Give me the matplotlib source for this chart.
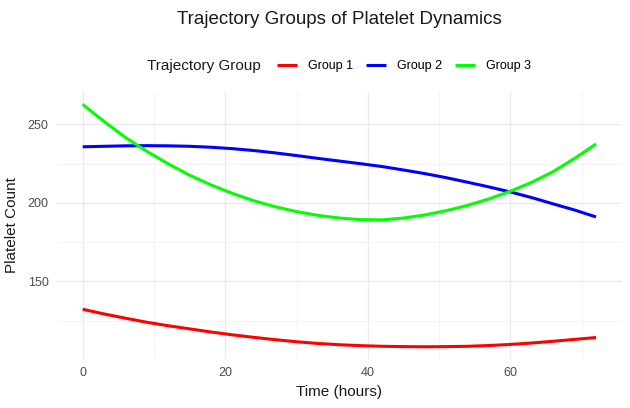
import matplotlib
matplotlib.use("Agg")
import matplotlib.pyplot as plt
from matplotlib.ticker import MultipleLocator

plt.rcParams['font.family'] = ['Liberation Sans', 'DejaVu Sans']

# values, every 3 hours
time_hours = [0, 3, 6, 9, 12, 15, 18, 21, 24, 27, 30, 33, 36,
              39, 42, 45, 48, 51, 54, 57, 60, 63, 66, 69, 72]
group_1 = [132.2, 129.2, 126.5, 123.9, 121.7, 119.7, 117.7, 115.9, 114.3,
           112.8, 111.5, 110.4, 109.6, 109.0, 108.6, 108.4, 108.3, 108.4,
           108.6, 109.1, 109.8, 110.7, 111.8, 113.0, 114.2]
group_2 = [235.7, 236.0, 236.3, 236.4, 236.3, 236.0, 235.4, 234.5, 233.3,
           231.8, 230.1, 228.3, 226.6, 224.9, 223.1, 220.9, 218.6, 216.0,
           213.1, 210.1, 206.9, 203.3, 199.3, 195.4, 191.0]
group_3 = [262.7, 251.8, 241.6, 232.8, 224.8, 217.6, 211.4, 206.0, 201.3,
           197.5, 194.4, 192.0, 190.3, 189.3, 189.1, 190.3, 192.3, 195.0,
           198.4, 202.5, 207.4, 213.1, 219.9, 228.3, 237.5]

group_labels = ["Group 1", "Group 2", "Group 3"]
group_colors = ["#FF0000", "#0000FF", "#00FF00"]

W, H = 630, 408
fig = plt.figure(figsize=(W / 100, H / 100), dpi=100)
ax = fig.add_axes([57 / W, 1 - 358.7 / H, (621.7 - 57) / W, (358.7 - 92.3) / H])

handles = []
for vals, lab, col in zip([group_1, group_2, group_3], group_labels, group_colors):
    h, = ax.plot(time_hours, vals, color=col, lw=2.2, label=lab,
                 solid_capstyle='butt', solid_joinstyle='round')
    handles.append(h)

ax.set_xlim(-3.6, 75.6)
ax.set_ylim(100.7, 270.4)
ax.xaxis.set_major_locator(MultipleLocator(20))
ax.xaxis.set_minor_locator(MultipleLocator(10))
ax.yaxis.set_major_locator(MultipleLocator(50))
ax.yaxis.set_minor_locator(MultipleLocator(25))
ax.grid(which='major', color='#EBEBEB', lw=1.0)
ax.grid(which='minor', color='#F2F2F2', lw=0.6)
ax.set_axisbelow(True)
for s in ax.spines.values():
    s.set_visible(False)
ax.tick_params(which='both', length=0, labelsize=9, labelcolor='#4D4D4D', pad=6)

ax.set_xlabel("Time (hours)", fontsize=11, color='#1A1A1A', labelpad=4)
ax.set_ylabel("Platelet Count", fontsize=11, color='#1A1A1A', labelpad=6)

fig.text(339.5 / W, 1 - 20 / H, "Trajectory Groups of Platelet Dynamics",
         ha='center', va='center', fontsize=13.5, color='#1A1A1A')

fig.text(147 / W, 1 - 66 / H, "Trajectory Group", ha='left', va='center',
         fontsize=11, color='#1A1A1A')
fig.legend(handles=handles, labels=group_labels, loc='center left',
           bbox_to_anchor=(277 / W, 1 - 66 / H), ncol=3, frameon=False,
           fontsize=9, handlelength=1.6, handletextpad=0.9,
           columnspacing=1.0, borderpad=0, borderaxespad=0)

fig.savefig("out.png", dpi=100, facecolor='white')
